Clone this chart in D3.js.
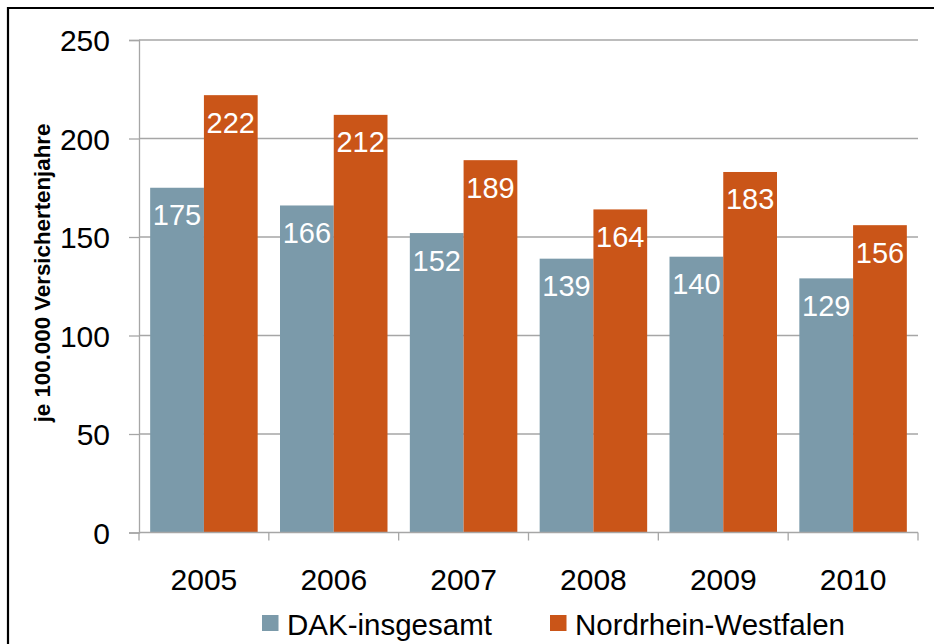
<!DOCTYPE html>
<html>
<head>
<meta charset="utf-8">
<script src="https://cdn.jsdelivr.net/npm/d3@7"></script>
<style>
  html, body { margin: 0; padding: 0; background: #fff; }
  svg { display: block; font-family: "Liberation Sans", Arial, sans-serif; }
</style>
</head>
<body>
<svg id="chart" width="934" height="644"></svg>
<script>
const years = ["2005", "2006", "2007", "2008", "2009", "2010"];
const seriesNames = ["DAK-insgesamt", "Nordrhein-Westfalen"];
const dakValues = [175, 166, 152, 139, 140, 129];
const nrwValues = [222, 212, 189, 164, 183, 156];
const yTicks = [0, 50, 100, 150, 200, 250];
const yLabel = "je 100.000 Versichertenjahre";
const colors = ["#7B9AAA", "#CA5518"];

const svg = d3.select("#chart");
const plotLeft = 139, plotRight = 918, plotTop = 40, plotBottom = 532.5;

// frame
svg.append("path").attr("d", "M8,644 L8,8 L934,8")
  .attr("fill", "none").attr("stroke", "#000").attr("stroke-width", 2.2);

const x0 = d3.scaleBand().domain(years).range([plotLeft, plotRight]).padding(0);
const pad = x0.bandwidth() * 0.086;
const x1 = d3.scaleBand().domain(seriesNames).range([pad, x0.bandwidth() - pad]).padding(0);
const y = d3.scaleLinear().domain([0, 250]).range([plotBottom, plotTop]);

// gridlines
svg.append("g").selectAll("line").data(yTicks.filter(t => t > 0)).join("line")
  .attr("x1", plotLeft).attr("x2", plotRight)
  .attr("y1", d => y(d)).attr("y2", d => y(d))
  .attr("stroke", "#A6A6A6").attr("stroke-width", 1.3);

// y axis
const yAxis = svg.append("g").attr("transform", `translate(${plotLeft},0)`)
  .call(d3.axisLeft(y).tickValues(yTicks).tickSize(10).tickPadding(19));
yAxis.select(".domain").attr("stroke", "#A6A6A6").attr("stroke-width", 1.3);
yAxis.selectAll(".tick line").attr("stroke", "#A6A6A6").attr("stroke-width", 1.3);
yAxis.selectAll(".tick text").attr("font-size", 30).attr("fill", "#000")
  .attr("font-family", "'Liberation Sans', Arial, sans-serif").attr("dy", "0.35em");

// bars
const data = years.map((yr, i) => ({ year: yr, values: [dakValues[i], nrwValues[i]] }));
const groups = svg.append("g").selectAll("g").data(data).join("g")
  .attr("transform", d => `translate(${x0(d.year)},0)`);
groups.selectAll("rect").data(d => d.values.map((v, k) => ({ name: seriesNames[k], v, k })))
  .join("rect")
  .attr("x", d => x1(d.name)).attr("width", x1.bandwidth())
  .attr("y", d => y(d.v)).attr("height", d => y(0) - y(d.v))
  .attr("fill", d => colors[d.k]);
groups.selectAll("text").data(d => d.values.map((v, k) => ({ name: seriesNames[k], v, k })))
  .join("text")
  .attr("x", d => x1(d.name) + x1.bandwidth() / 2)
  .attr("y", d => y(d.v) + 37.5)
  .attr("text-anchor", "middle").attr("font-size", 29).attr("fill", "#fff")
  .text(d => d.v);

// x axis
const xAxis = svg.append("g").attr("transform", `translate(0,${plotBottom})`);
xAxis.append("line").attr("x1", plotLeft).attr("x2", plotRight).attr("y1", 0).attr("y2", 0)
  .attr("stroke", "#A6A6A6").attr("stroke-width", 1.3);
const bounds = years.map(yr => x0(yr)).concat([plotRight]);
xAxis.selectAll("line.tk").data(bounds).join("line").attr("class", "tk")
  .attr("x1", d => d).attr("x2", d => d).attr("y1", 0).attr("y2", 8)
  .attr("stroke", "#A6A6A6").attr("stroke-width", 1.3);
xAxis.selectAll("text").data(years).join("text")
  .attr("x", d => x0(d) + x0.bandwidth() / 2).attr("y", 57.5)
  .attr("text-anchor", "middle").attr("font-size", 30).attr("fill", "#000")
  .text(d => d);

// y label
svg.append("text")
  .attr("transform", "translate(50,273) rotate(-90)")
  .attr("text-anchor", "middle").attr("font-size", 22.3).attr("font-weight", "bold")
  .attr("fill", "#000").text(yLabel);

// legend
const legendPos = [262, 550];
const lg = svg.append("g").selectAll("g").data(seriesNames).join("g")
  .attr("transform", (d, i) => `translate(${legendPos[i]},615)`);
lg.append("rect").attr("width", 16.5).attr("height", 16).attr("fill", (d, i) => colors[i]);
lg.append("text").attr("x", 25).attr("y", 20).attr("font-size", 29.5).attr("fill", "#000")
  .text(d => d);
</script>
</body>
</html>
